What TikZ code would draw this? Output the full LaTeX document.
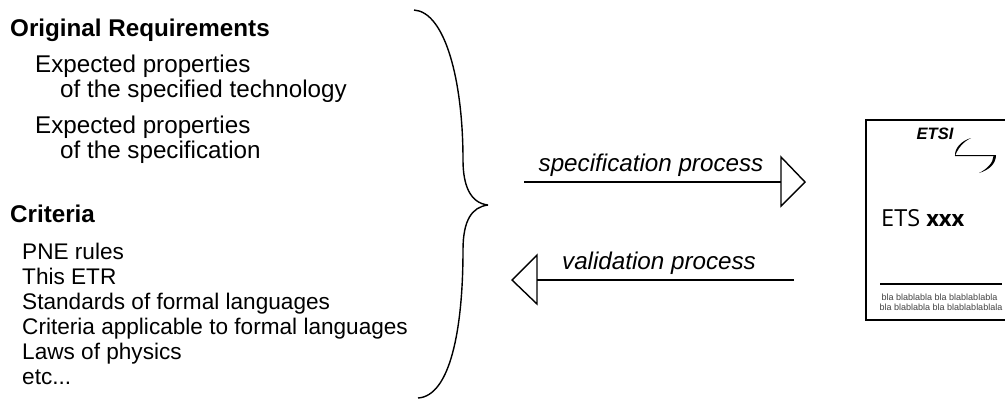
\documentclass[tikz,border=0pt]{standalone}
\usepackage{fontspec}
\setmainfont{Liberation Sans}
\newfontfamily\cardfont{Open Sans}
\tikzset{
  lbl/.style={anchor=base west,inner sep=0pt,font=\fontsize{24.2}{24}\selectfont},
  lst/.style={anchor=base west,inner sep=0pt,font=\fontsize{22.6}{24}\selectfont},
  bold/.style={lbl,font=\fontsize{24.2}{24}\selectfont\bfseries},
  proc/.style={anchor=base,inner sep=0pt,font=\fontsize{24.2}{24}\selectfont\itshape},
  ln/.style={line width=1.4pt,black},
}
\begin{document}
\begin{tikzpicture}[x=1pt,y=-1pt]
\useasboundingbox (0,0) rectangle (1005,400);
\node[bold] (t1) at (10,36) {Original Requirements};
\node[lbl] (t2) at (35,72) {Expected properties};
\node[lbl] (t3) at (60,97) {of the specified technology};
\node[lbl] (t4) at (35,133) {Expected properties};
\node[lbl] (t5) at (60,158) {of the specification};
\node[bold] (t6) at (10,222) {Criteria};
\node[lst] (c1) at (22,259) {PNE rules};
\node[lst] (c2) at (22,284) {This ETR};
\node[lst] (c3) at (22,309) {Standards of formal languages};
\node[lst] (c4) at (22,334) {Criteria applicable to formal languages};
\node[lst] (c5) at (22,359) {Laws of physics};
\node[lst] (c6) at (22,384) {etc...};
% brace
\coordinate (bt) at (414,10);
\coordinate (bm) at (488,205);
\coordinate (bb) at (418,398);
\draw[ln,line join=bevel] (bt) .. controls (445,12) and (463,80) .. (463,160)
  .. controls (463,185) and (470,203) .. (bm)
  .. controls (472,207) and (463,220) .. (463,250)
  .. controls (463,330) and (450,396) .. (bb);
% arrows
\coordinate (a1s) at (524,182);
\coordinate (a1e) at (781,182);
\coordinate (a1t) at (781,157);
\coordinate (a1p) at (805,182);
\coordinate (a1b) at (781,206);
\draw[ln] (a1s) -- (a1e);
\draw[ln,line join=miter] (a1t) -- (a1p) -- (a1b) -- cycle;
\coordinate (a2s) at (794,280);
\coordinate (a2e) at (537,280);
\coordinate (a2t) at (537,255);
\coordinate (a2p) at (512,280);
\coordinate (a2b) at (537,304);
\draw[ln] (a2s) -- (a2e);
\draw[ln,line join=miter] (a2t) -- (a2p) -- (a2b) -- cycle;
\node[proc] (p1) at (651,171) {specification process};
\node[proc] (p2) at (659,269) {validation process};
% card
\coordinate (k1) at (1005,120);
\coordinate (k2) at (866,120);
\coordinate (k3) at (866,320);
\coordinate (k4) at (1005,320);
\draw[line width=1.3pt] (k1) -- (k2) -- (k3) -- (k4);
\node[anchor=base,inner sep=0pt,font=\fontsize{16.5}{16.5}\selectfont\bfseries\itshape] (e1) at (935,139) {ETSI};
\fill (971,138) .. controls (961,141) and (955,148) .. (955,155) -- (996,155)
  .. controls (996,164) and (989,170) .. (979,173)
  .. controls (987,169) and (993,163) .. (993.5,156.2) -- (955,156.2)
  .. controls (958,148) and (963,142) .. (971,138) -- cycle;
\draw[line width=1.1pt] (954.5,155.3) -- (996,155.3);
\node[anchor=base west,inner sep=0pt,font=\cardfont\fontsize{23.5}{23.5}\selectfont] (e2) at (881,226) {ETS {\fontsize{22}{22}\selectfont\bfseries xxx}};
\coordinate (r1) at (880,284);
\coordinate (r2) at (1002,284);
\draw[line width=1.2pt] (r1) -- (r2);
\node[anchor=base,inner sep=0pt,font=\fontsize{9}{9}\selectfont,text=black!75] (f1) at (939.5,300.5) {bla blablabla bla blablablabla};
\node[anchor=base,inner sep=0pt,font=\fontsize{9}{9}\selectfont,text=black!75] (f2) at (941,310) {bla blablabla bla blablablablala};
\end{tikzpicture}
\end{document}
